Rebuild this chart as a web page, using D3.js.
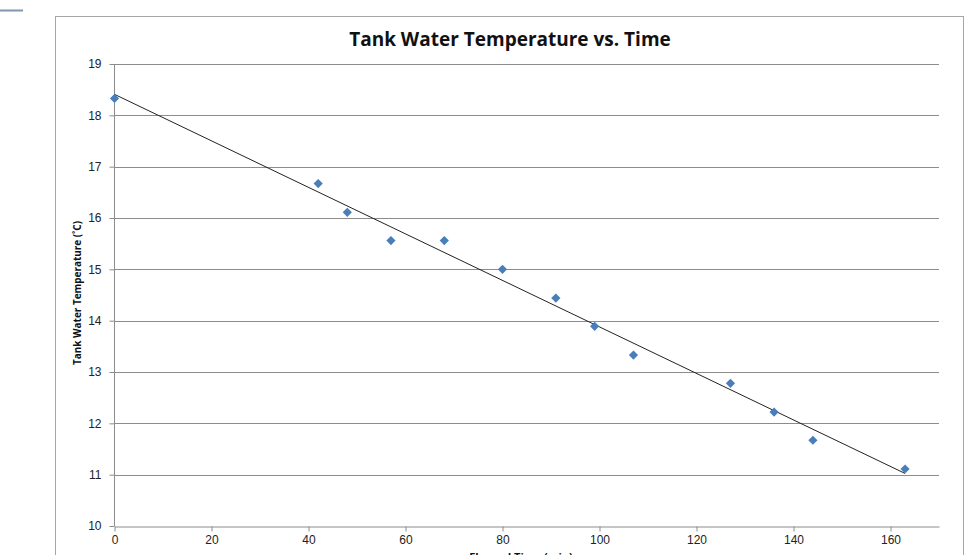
<!DOCTYPE html>
<html>
<head>
<meta charset="utf-8">
<style>
  body { margin: 0; background: #fff; }
  svg { display: block; font-family: "Open Sans", "Liberation Sans", sans-serif; }
</style>
</head>
<body>
<script src="https://cdn.jsdelivr.net/npm/d3@7/dist/d3.min.js"></script>
<script>

// elapsed time (min) and tank water temperature (°C)
var times = [0, 42, 48, 57, 68, 80, 91, 99, 107, 127, 136, 144, 163];
var temps = [18.33, 16.67, 16.11, 15.56, 15.56, 15.0, 14.44, 13.89, 13.33, 12.78, 12.22, 11.67, 11.11];
var xTicks = [0, 20, 40, 60, 80, 100, 120, 140, 160];
var yTicks = [10, 11, 12, 13, 14, 15, 16, 17, 18, 19];

var data = times.map((t, i) => ({t: t, temp: temps[i]}));

var W = 968, H = 555;
var svg = d3.select('body').append('svg')
	.attr('width', W).attr('height', H);

// chart frame
svg.append('rect')
	.attr('x', 55.5).attr('y', 16.5)
	.attr('width', 908).attr('height', 560)
	.attr('fill', 'none').attr('stroke', '#a6a6a6');

// small stray line top-left
svg.append('line')
	.attr('x1', 0).attr('x2', 23).attr('y1', 10.5).attr('y2', 10.5)
	.attr('stroke', '#8096b0').attr('stroke-width', 2);

var x = d3.scaleLinear().domain([0, 170]).range([114.5, 939]);
var y = d3.scaleLinear().domain([10, 19]).range([526, 64]);

// grid
svg.append('g')
	.selectAll('line')
	.data(yTicks.slice(1))
	.join('line')
		.attr('x1', x(0)).attr('x2', x(170))
		.attr('y1', d => Math.round(y(d)) + .5).attr('y2', d => Math.round(y(d)) + .5)
		.attr('stroke', '#8c8c8c');

// y axis
var yAxis = svg.append('g')
	.attr('transform', `translate(${x(0)},0)`)
	.call(d3.axisLeft(y).tickValues(yTicks).tickSize(5).tickSizeOuter(0).tickPadding(8))
	.call(g => g.selectAll('line, path').attr('stroke', '#8c8c8c'))
	.call(g => g.selectAll('text').attr('font-size', 12).attr('fill', '#222'));
yAxis.select('.domain').attr('d', `M0,${y(10)}V${y(19)}`);

// x axis
svg.append('g')
	.attr('transform', `translate(0,${Math.round(y(10)) + .5})`)
	.call(d3.axisBottom(x).tickValues(xTicks).tickSize(5).tickSizeOuter(0).tickPadding(4))
	.call(g => g.selectAll('line, path').attr('stroke', '#8c8c8c'))
	.call(g => g.selectAll('text').attr('font-size', 12).attr('fill', '#222'));

// least squares trendline
var mx = d3.mean(times), my = d3.mean(temps);
var slope = d3.sum(data, d => (d.t - mx) * (d.temp - my)) / d3.sum(data, d => (d.t - mx) ** 2);
var icpt = my - slope * mx;
var tEnd = d3.max(times);
svg.append('line')
	.attr('x1', x(0)).attr('y1', y(icpt))
	.attr('x2', x(tEnd)).attr('y2', y(icpt + slope * tEnd))
	.attr('stroke', '#222').attr('stroke-width', 1);

// points
svg.append('g')
	.selectAll('path')
	.data(data)
	.join('path')
		.attr('transform', d => `translate(${x(d.t)},${y(d.temp)})`)
		.attr('d', 'M0,-4.6L4.6,0L0,4.6L-4.6,0Z')
		.attr('fill', '#4a7ebb');

// title
svg.append('text')
	.attr('x', 510).attr('y', 46)
	.attr('text-anchor', 'middle')
	.attr('font-size', 19).attr('font-weight', 'bold')
	.attr('fill', '#111')
	.text('Tank Water Temperature vs. Time');

// axis titles
svg.append('text')
	.attr('transform', 'translate(81,293) rotate(-90)')
	.attr('text-anchor', 'middle')
	.attr('font-size', 10).attr('font-weight', 'bold')
	.attr('textLength', 144).attr('lengthAdjust', 'spacingAndGlyphs')
	.attr('fill', '#111')
	.text('Tank Water Temperature  (˚C)');

svg.append('text')
	.attr('x', 521).attr('y', 561)
	.attr('text-anchor', 'middle')
	.attr('font-size', 11).attr('font-weight', 'bold')
	.attr('fill', '#111')
	.text('Elapsed Time (min)');

</script>
</body>
</html>
